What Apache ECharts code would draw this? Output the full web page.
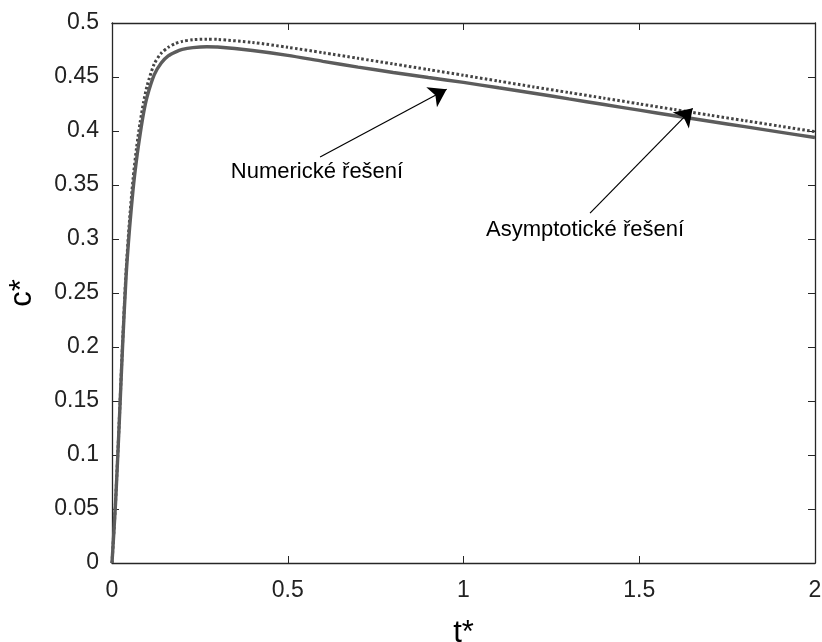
<!DOCTYPE html>
<html>
<head>
<meta charset="utf-8">
<script src="https://cdn.jsdelivr.net/npm/echarts@6/dist/echarts.min.js"></script>
<style>
html,body{margin:0;padding:0;background:#fff;}
#chart{width:822px;height:642px;}
</style>
</head>
<body>
<div id="chart"></div>
<script>
// Numerical solution (solid)
const tNum = [0, 0.01, 0.02, 0.03, 0.04, 0.05, 0.06, 0.07, 0.08, 0.09, 0.10, 0.12, 0.14, 0.16, 0.18, 0.20, 0.23, 0.27, 0.30, 0.40, 0.50, 0.60, 0.70, 0.80, 0.90, 1.00, 1.10, 1.20, 1.30, 1.40, 1.50, 1.60, 1.70, 1.80, 1.90, 2.00];
const cNum = [0, 0.055, 0.125, 0.200, 0.265, 0.310, 0.346, 0.374, 0.397, 0.417, 0.432, 0.452, 0.463, 0.4695, 0.473, 0.4755, 0.4772, 0.478, 0.4778, 0.4745, 0.470, 0.4645, 0.4592, 0.4542, 0.4495, 0.445, 0.440, 0.435, 0.4297, 0.4245, 0.4193, 0.4141, 0.409, 0.404, 0.399, 0.394];
// Asymptotic solution (dotted)
const tAsy = [0, 0.01, 0.02, 0.03, 0.04, 0.05, 0.06, 0.07, 0.08, 0.09, 0.10, 0.12, 0.14, 0.16, 0.18, 0.20, 0.23, 0.27, 0.30, 0.40, 0.50, 0.60, 0.70, 0.80, 0.90, 1.00, 1.10, 1.20, 1.30, 1.40, 1.50, 1.60, 1.70, 1.80, 1.90, 2.00];
const cAsy = [0, 0.056, 0.127, 0.203, 0.270, 0.318, 0.356, 0.385, 0.408, 0.427, 0.442, 0.462, 0.472, 0.4775, 0.481, 0.483, 0.4845, 0.485, 0.4848, 0.482, 0.4775, 0.4725, 0.4673, 0.4621, 0.4569, 0.4516, 0.4462, 0.4408, 0.4356, 0.4304, 0.4251, 0.4199, 0.4147, 0.4096, 0.4045, 0.3994];
// Tick labels
const xTickLabels = ['0', '0.5', '1', '1.5', '2'];
const yTickLabels = ['0', '0.05', '0.1', '0.15', '0.2', '0.25', '0.3', '0.35', '0.4', '0.45', '0.5'];
// Annotations
const annotNames = ['Numerické řešení', 'Asymptotické řešení'];
const annotText = [[0.338, 0.362], [1.064, 0.308]];
const annotArrowFrom = [[0.592, 0.376], [1.360, 0.324]];
const annotArrowTo = [[0.952, 0.4386], [1.652, 0.421]];

const FONT = 'Liberation Sans, Arial, Helvetica, sans-serif';
const AXC = '#262626';

const numData = tNum.map((t, i) => [t, cNum[i]]);
const asyData = tAsy.map((t, i) => [t, cAsy[i]]);

const chart = echarts.init(document.getElementById('chart'), null, {renderer: 'canvas'});
const commonX = {type: 'value', min: 0, max: 2, interval: 0.5};
const commonY = {type: 'value', min: 0, max: 0.5, interval: 0.05};

chart.setOption({
  animation: false,
  backgroundColor: '#fff',
  grid: {left: 112, top: 23, right: 7, bottom: 79, containLabel: false, outerBoundsMode: 'none'},
  xAxis: [
    Object.assign({}, commonX, {
      position: 'bottom',
      name: 't*', nameLocation: 'middle', nameGap: 55,
      nameTextStyle: {fontFamily: FONT, fontSize: 31, color: '#000'},
      axisLine: {show: true, onZero: false, lineStyle: {color: AXC, width: 1.3}},
      axisTick: {show: true, inside: true, length: 7, lineStyle: {color: AXC, width: 1}},
      axisLabel: {show: true, margin: 16, fontFamily: FONT, fontSize: 23, color: '#222',
        formatter: v => xTickLabels[Math.round(v / 0.5)]},
      splitLine: {show: false}
    }),
    Object.assign({}, commonX, {
      position: 'top',
      axisLine: {show: true, onZero: false, lineStyle: {color: AXC, width: 1.3}},
      axisTick: {show: true, inside: true, length: 7, lineStyle: {color: AXC, width: 1}},
      axisLabel: {show: false},
      splitLine: {show: false}
    })
  ],
  yAxis: [
    Object.assign({}, commonY, {
      position: 'left',
      name: 'c*', nameLocation: 'middle', nameGap: 74, nameRotate: 90,
      nameTextStyle: {fontFamily: FONT, fontSize: 31, color: '#000'},
      axisLine: {show: true, onZero: false, lineStyle: {color: AXC, width: 1.3}},
      axisTick: {show: true, inside: true, length: 7, lineStyle: {color: AXC, width: 1}},
      axisLabel: {show: true, margin: 13, fontFamily: FONT, fontSize: 23, color: '#222',
        formatter: v => yTickLabels[Math.round(v / 0.05)]},
      splitLine: {show: false}
    }),
    Object.assign({}, commonY, {
      position: 'right',
      axisLine: {show: true, onZero: false, lineStyle: {color: AXC, width: 1.3}},
      axisTick: {show: true, inside: true, length: 7, lineStyle: {color: AXC, width: 1}},
      axisLabel: {show: false},
      splitLine: {show: false}
    })
  ],
  series: [
    {
      name: 'Asymptotické řešení', type: 'line', data: asyData, smooth: 0.25,
      showSymbol: false, symbol: 'none', xAxisIndex: 0, yAxisIndex: 0,
      lineStyle: {color: '#444', width: 3, type: [2.5, 2.3], cap: 'butt'},
      z: 2
    },
    {
      name: 'Numerické řešení', type: 'line', data: numData, smooth: 0.25,
      showSymbol: false, symbol: 'none', xAxisIndex: 0, yAxisIndex: 0,
      lineStyle: {color: '#5c5c5c', width: 3.4},
      z: 3,
      markLine: {
        silent: true, animation: false,
        symbol: ['none', 'arrow'], symbolSize: 17,
        lineStyle: {color: '#000', width: 1.2, type: 'solid'},
        label: {show: false},
        data: annotArrowFrom.map((p, i) => [{coord: p}, {coord: annotArrowTo[i]}])
      },
      markPoint: {
        silent: true, animation: false,
        symbol: 'circle', symbolSize: 0,
        data: annotNames.map((n, i) => ({
          coord: annotText[i],
          label: {show: true, position: 'right', distance: 0, formatter: n,
            fontFamily: FONT, fontSize: 22, color: '#000'}
        }))
      }
    }
  ]
});
</script>
</body>
</html>
